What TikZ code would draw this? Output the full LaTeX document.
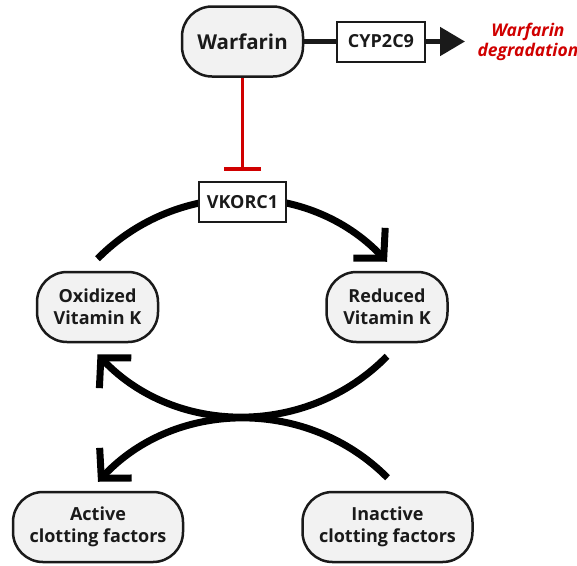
\documentclass[tikz,border=0pt]{standalone}
\usepackage{fontspec}
\setmainfont{Open Sans}
\usetikzlibrary{arrows.meta}

\definecolor{pillgray}{HTML}{F2F2F2}
\definecolor{inhibred}{HTML}{D00000}
\definecolor{inkdark}{HTML}{1A1A1A}

\tikzset{
    pill/.style={draw=inkdark, line width=2.5pt, fill=pillgray, rounded corners=30pt,
        minimum height=70pt, inner sep=2pt, align=center, text=inkdark,
        font=\bfseries\fontsize{18}{22}\selectfont},
    enzyme/.style={draw=inkdark, line width=2pt, fill=white, minimum height=40pt,
        inner sep=2pt, text=inkdark, font=\bfseries\fontsize{18}{20}\selectfont},
    cyclearrow/.style={line width=7pt, -{Straight Barb[length=21pt, width=44pt]}},
}

\begin{document}
\begin{tikzpicture}[x=1pt, y=-1pt]
        \useasboundingbox (0, 0) rectangle (577, 565);

        \node[pill, minimum width=121pt, font=\bfseries\fontsize{20.5}{24}\selectfont] (warf) at (242.5, 41.5) {Warfarin};
        \node[enzyme, minimum width=88pt] (cyp) at (381, 41.5) {CYP2C9};
        \node[text=inhibred, align=center, font=\bfseries\itshape\fontsize{17.5}{20}\selectfont] (degr) at (528, 41.5) {Warfarin\\degradation};
        \coordinate (degrtip) at (465, 41.5);

        \node[pill, minimum width=121pt] (ox) at (97.5, 307) {Oxidized\\Vitamin K};
        \node[pill, minimum width=121pt] (red) at (387, 307) {Reduced\\Vitamin K};

        \node[pill, minimum width=170pt] (act) at (98, 527) {Active\\clotting factors};
        \node[pill, minimum width=170pt] (inact) at (387.5, 527) {Inactive\\clotting factors};

        % vitamin K cycle
        \draw[cyclearrow] ([yshift=12pt]ox.north) to[bend left=46] ([yshift=9pt]red.north);
        \draw[cyclearrow] ([yshift=-13pt]red.south) to[bend left=46] ([yshift=-11pt]ox.south);
        \draw[cyclearrow] ([yshift=13pt]inact.north) to[bend right=46] ([yshift=9pt]act.north);

        \node[enzyme, minimum width=87pt] (vk) at (242.5, 202) {VKORC1};

        % warfarin side
        \draw[inkdark, line width=5pt] (warf.east) -- (cyp.west);
        \draw[inkdark, line width=5pt, -{Triangle[length=25pt, width=28pt]}] (cyp.east) -- (degrtip);
        \draw[inhibred, line width=3.5pt, -{Bar[width=37pt, line width=4pt]}] (warf.south) -- ([yshift=10pt]vk.north);

    \end{tikzpicture}
\end{document}
